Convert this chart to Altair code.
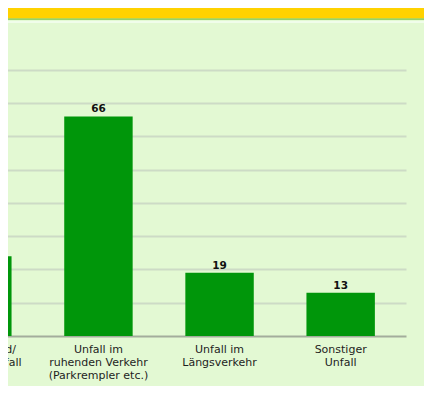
import altair as alt
import pandas as pd

categories = [
    "Abbiege- und/\nKreuzungsunfall",
    "Unfall im\nruhenden Verkehr\n(Parkrempler etc.)",
    "Unfall im\nLängsverkehr",
    "Sonstiger\nUnfall",
]
values = [24, 66, 19, 13]
grid_values = [10, 20, 30, 40, 50, 60, 70, 80]

df = pd.DataFrame({"cat": categories, "val": values})

BG = "#e3f9d3"
BAR = "#00960a"
FONT = "DejaVu Sans"

x_enc = alt.X(
    "cat:N",
    sort=None,
    scale=alt.Scale(paddingInner=0.435, paddingOuter=0.257),
    axis=alt.Axis(
        title=None,
        ticks=False,
        tickSize=0,
        domain=True,
        domainColor="#a3ad9c",
        domainWidth=2,
        labelAngle=0,
        labelPadding=7,
        labelFont=FONT,
        labelFontSize=11,
        labelColor="#1e1e1e",
        labelLineHeight=13,
        labelBaseline="top",
        labelExpr="split(datum.label, '\\n')",
        grid=False,
    ),
)
y_enc = alt.Y(
    "val:Q",
    scale=alt.Scale(domain=[0, 98.6], nice=False, zero=True),
    axis=alt.Axis(
        title=None,
        values=grid_values,
        grid=True,
        gridColor="#cddbc6",
        gridWidth=2,
        labels=False,
        ticks=False,
        domain=False,
    ),
)

bars = alt.Chart(df).mark_bar(color=BAR, clip=True).encode(x=x_enc, y=y_enc)

labels = alt.Chart(df).mark_text(
    font=FONT, fontSize=10.5, fontWeight="bold", color="#111111",
    baseline="alphabetic", dy=-4,
).encode(x=alt.X("cat:N", sort=None), y="val:Q", text="val:Q")

band_data = alt.Data(values=[{"k": 1}])
band = alt.Chart(band_data).mark_rect(color="#ffd200").encode(
    x=alt.value(0), x2=alt.value(540), y=alt.value(0), y2=alt.value(10.6)
)
band_line = alt.Chart(band_data).mark_rule(color="#7cc445", strokeWidth=1.3).encode(
    x=alt.value(0), x2=alt.value(540), y=alt.value(11.2)
)
band_glow = alt.Chart(band_data).mark_rule(color="#f0fdea", strokeWidth=2).encode(
    x=alt.value(0), x2=alt.value(540), y=alt.value(14)
)

chart = (
    alt.layer(bars, labels, band_glow, band, band_line)
    .properties(
        width=494,
        height=328,
        background=BG,
        padding={"left": -96, "top": 0, "right": 18, "bottom": 50},
        autosize=alt.AutoSizeParams(type="none"),
    )
    .configure_view(stroke=None, fill=BG)
)

chart.save("out.html", embed_options={"renderer": "svg", "actions": False})
